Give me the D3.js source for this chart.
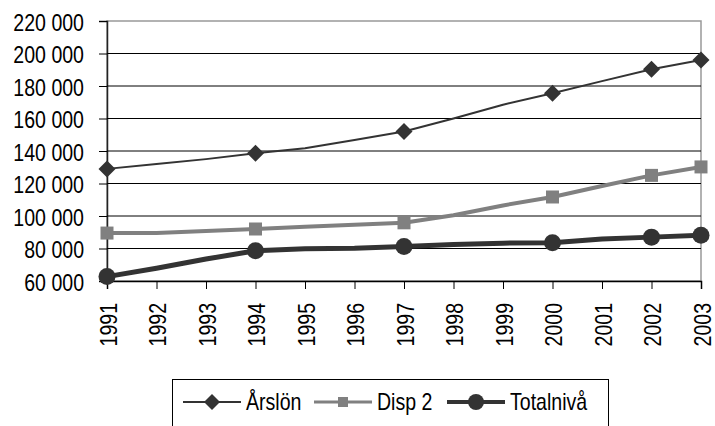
<!DOCTYPE html>
<html>
<head>
<meta charset="utf-8">
<script src="https://cdn.jsdelivr.net/npm/d3@7"></script>
<style>
  body { margin: 0; background: #fff; }
  text { font-family: 'Liberation Sans', Arial, sans-serif; fill: #000; }
</style>
</head>
<body>
<div id="chart"></div>
<script>
const years = [1991, 1992, 1993, 1994, 1995, 1996, 1997, 1998, 1999, 2000, 2001, 2002, 2003]
const markerYears = [1991, 1994, 1997, 2000, 2002, 2003]
const arslon = [129000, 132000, 135000, 138600, 141700, 146800, 152000, 160000, 168500, 175500, 183000, 190300, 196000]
const disp2 = [89500, 89500, 90800, 92000, 93400, 94600, 95800, 100500, 106500, 111700, 118500, 125000, 130200]
const totalniva = [62700, 67800, 73500, 78600, 79800, 80200, 81300, 82500, 83300, 83600, 85900, 87000, 88200]
const yTicks = [60000, 80000, 100000, 120000, 140000, 160000, 180000, 200000, 220000]
const seriesNames = ['Årslön', 'Disp 2', 'Totalnivå']

const margin = { top: 21, left: 107, right: 14, bottom: 145 }
const width = 715 - margin.left - margin.right
const height = 426 - margin.top - margin.bottom

// no condensed font installed, so squeeze the regular one
const fontSize = 23
const squeeze = 'scale(0.85,1)'

const svgRoot = d3
  .select('#chart')
  .append('svg')
  .attr('width', 715)
  .attr('height', 426)

const svg = svgRoot
  .append('g')
  .attr('transform', 'translate(' + margin.left + ',' + margin.top + ')')

const xPositionScale = d3.scaleLinear().domain([1991, 2003]).range([0, width])
const yPositionScale = d3.scaleLinear().domain([60000, 220000]).range([height, 0])

const series = [
  { name: seriesNames[0], values: arslon, color: '#333', stroke: 2, shape: 'diamond' },
  { name: seriesNames[1], values: disp2, color: '#808080', stroke: 4, shape: 'square' },
  { name: seriesNames[2], values: totalniva, color: '#333', stroke: 5, shape: 'circle' }
]

// plot frame (top and right in gray)
svg
  .append('rect')
  .attr('x', 0)
  .attr('y', 0)
  .attr('width', width)
  .attr('height', height)
  .attr('fill', 'none')
  .attr('stroke', '#999')
  .attr('stroke-width', 1.5)

// y axis
const yAxis = d3
  .axisLeft(yPositionScale)
  .tickValues(yTicks)
  .tickSize(8)
  .tickFormat(d => d3.format(',')(d).replace(/,/g, ' '))

svg
  .append('g')
  .attr('class', 'axis y-axis')
  .call(yAxis)
  .call(g => g.select('.domain').attr('stroke', '#222').attr('stroke-width', 1.5))
  .call(g => g.selectAll('.tick line').attr('stroke', '#000'))
  .call(g =>
    g
      .selectAll('text')
      .attr('font-size', fontSize)
      .attr('text-anchor', 'end')
      .attr('x', 0)
      .attr('dy', '0.36em')
      .attr('transform', 'translate(-23,1) ' + squeeze)
  )

// gridlines
svg
  .append('g')
  .attr('class', 'grid')
  .selectAll('line')
  .data(yTicks.filter(d => d !== 60000 && d !== 220000))
  .enter()
  .append('line')
  .attr('x1', 0)
  .attr('x2', width)
  .attr('y1', d => yPositionScale(d))
  .attr('y2', d => yPositionScale(d))
  .attr('stroke', '#000')
  .attr('stroke-width', 1)

// x axis
const xAxis = d3
  .axisBottom(xPositionScale)
  .tickValues(years)
  .tickSize(8)
  .tickFormat(d3.format('d'))

svg
  .append('g')
  .attr('class', 'axis x-axis')
  .attr('transform', 'translate(0,' + height + ')')
  .call(xAxis)
  .call(g => g.select('.domain').attr('stroke', '#000').attr('stroke-width', 1.5))
  .call(g =>
    g
      .selectAll('text')
      .attr('font-size', fontSize)
      .attr('text-anchor', 'end')
      .attr('x', 0)
      .attr('y', 0)
      .attr('dy', '0.36em')
      .attr('transform', 'translate(1,22) rotate(-90) ' + squeeze)
  )

const line = d3
  .line()
  .x((d, i) => xPositionScale(years[i]))
  .y(d => yPositionScale(d))

svg
  .selectAll('.series-line')
  .data(series)
  .enter()
  .append('path')
  .attr('class', 'series-line')
  .attr('d', d => line(d.values))
  .attr('fill', 'none')
  .attr('stroke', d => d.color)
  .attr('stroke-width', d => d.stroke)
  .attr('stroke-linejoin', 'round')

function drawMarker(sel, shape, color, big) {
  if (shape === 'diamond') {
    const r = big ? 8.5 : 8
    sel
      .append('path')
      .attr('d', `M0,${-r}L${r},0L0,${r}L${-r},0Z`)
      .attr('fill', color)
  } else if (shape === 'square') {
    const s = big ? 13 : 10
    sel
      .append('rect')
      .attr('x', -s / 2)
      .attr('y', -s / 2)
      .attr('width', s)
      .attr('height', s)
      .attr('fill', color)
  } else {
    sel
      .append('circle')
      .attr('r', big ? 8.5 : 8)
      .attr('fill', color)
  }
}

series.forEach(s => {
  markerYears.forEach(yr => {
    const i = years.indexOf(yr)
    const g = svg
      .append('g')
      .attr('transform', 'translate(' + xPositionScale(yr) + ',' + yPositionScale(s.values[i]) + ')')
    drawMarker(g, s.shape, s.color, true)
  })
})

// legend
const legend = svgRoot.append('g').attr('class', 'legend')
legend
  .append('rect')
  .attr('x', 172.5)
  .attr('y', 379.5)
  .attr('width', 436)
  .attr('height', 60)
  .attr('fill', '#fff')
  .attr('stroke', '#000')
  .attr('stroke-width', 1)

const legendX = [183, 314, 447]
const legendY = 402

series.forEach((s, i) => {
  const g = legend.append('g').attr('transform', 'translate(' + legendX[i] + ',' + legendY + ')')
  g.append('line')
    .attr('x1', 0)
    .attr('x2', 58)
    .attr('y1', 0)
    .attr('y2', 0)
    .attr('stroke', s.color)
    .attr('stroke-width', s.stroke === 2 ? 2 : s.stroke - 1)
  const m = g.append('g').attr('transform', 'translate(29,0)')
  drawMarker(m, s.shape, s.color, false)
  g.append('text')
    .attr('x', 0)
    .attr('y', 0)
    .attr('dy', '0.36em')
    .attr('font-size', fontSize)
    .attr('transform', 'translate(63,0) ' + squeeze)
    .text(s.name)
})
</script>
</body>
</html>
